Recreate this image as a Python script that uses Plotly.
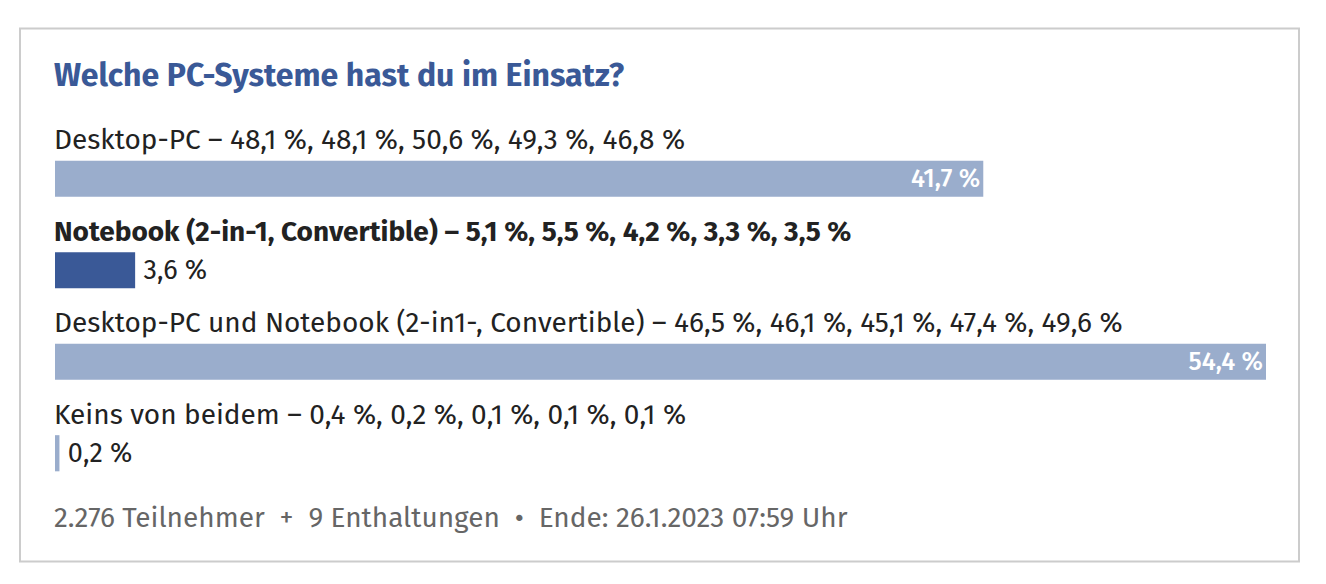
import plotly.graph_objects as go

# ---- data ----
categories = [
    "Desktop-PC",
    "Notebook (2-in-1, Convertible)",
    "Desktop-PC und Notebook (2-in1-, Convertible)",
    "Keins von beidem",
]
current_pct = [41.7, 3.6, 54.4, 0.2]
history_pct = [
    [48.1, 48.1, 50.6, 49.3, 46.8],
    [5.1, 5.5, 4.2, 3.3, 3.5],
    [46.5, 46.1, 45.1, 47.4, 49.6],
    [0.4, 0.2, 0.1, 0.1, 0.1],
]
highlighted = [False, True, False, False]
title_text = "Welche PC-Systeme hast du im Einsatz?"
participants = "2.276"
abstentions = "9"
end_date = "26.1.2023 07:59 Uhr"

# ---- style ----
FONT = "Fira Sans, Noto Sans, sans-serif"
LIGHT = "#9aadcc"
DARK = "#3a5997"
TEXT = "#222222"
GREY = "#666666"

OFF = 8  # page body margin
W, H = 1326 - 2 * OFF, 584 - 2 * OFF


def px_x(x):
    return x - OFF


def px_y(y):
    return y - OFF


L = px_x(55)
R = W - px_x(1266)
T = px_y(133.3)
B = H - px_y(498.6)
pw, ph = W - L - R, H - T - B


def fmt(v):
    return f"{v:.1f}".replace(".", ",") + " %"


idx = list(range(len(categories)))
max_v = max(current_pct)
colors = [DARK if h else LIGHT for h in highlighted]
inside = [v > 0.15 * max_v for v in current_pct]
textpos = ["inside" if i else "outside" for i in inside]
textcol = ["white" if i else TEXT for i in inside]

fig = go.Figure(
    go.Bar(
        x=current_pct,
        y=idx,
        orientation="h",
        width=0.395,
        marker=dict(color=colors, line=dict(width=0)),
        text=[fmt(v) if i else "\u2009" + fmt(v) for v, i in zip(current_pct, inside)],
        textposition=textpos,
        insidetextanchor="end",
        textfont=dict(family=FONT, size=27, color=textcol),
        outsidetextfont=dict(family=FONT, size=27, color=TEXT),
        insidetextfont=dict(family=FONT, size=27, color="white", weight=500),
        cliponaxis=False,
        hoverinfo="skip",
    )
)

annotations = []
for i, (cat, hist, hl) in enumerate(zip(categories, history_pct, highlighted)):
    label = cat + " – " + ", ".join(fmt(v) for v in hist)
    if hl:
        label = "<b>" + label + "</b>"
    annotations.append(
        dict(
            x=0, xref="paper", y=i, yref="y", yshift=39, xshift=-3,
            text=label, showarrow=False, xanchor="left", yanchor="middle",
            font=dict(family=FONT, size=28, color=TEXT),
        )
    )

annotations.append(
    dict(
        x=0, xref="paper", y=1 + (T - px_y(75)) / ph, yref="paper", xshift=-3,
        text="<b>" + title_text + "</b>", showarrow=False,
        xanchor="left", yanchor="middle",
        font=dict(family=FONT, size=32, color=DARK),
    )
)
annotations.append(
    dict(
        x=0, xref="paper", y=(T + ph - px_y(517)) / ph, yref="paper", xshift=-3,
        text=f"{participants} Teilnehmer  +  {abstentions} Enthaltungen  •  Ende: {end_date}",
        showarrow=False, xanchor="left", yanchor="middle",
        font=dict(family=FONT, size=28, color=GREY),
    )
)

fig.update_layout(
    width=W, height=H, autosize=False,
    margin=dict(l=L, r=R, t=T, b=B, pad=0),
    paper_bgcolor="white", plot_bgcolor="white",
    showlegend=False,
    xaxis=dict(range=[0, max_v], visible=False, fixedrange=True),
    yaxis=dict(range=[len(categories) - 0.5, -0.5], visible=False, fixedrange=True),
    annotations=annotations,
    shapes=[
        dict(
            type="rect", xref="paper", yref="paper",
            x0=(px_x(20) - L) / pw, x1=(px_x(1299) - L) / pw,
            y0=(T + ph - px_y(561)) / ph, y1=1 + (T - px_y(29)) / ph,
            line=dict(color="#cccccc", width=2), fillcolor="rgba(0,0,0,0)",
            layer="below",
        )
    ],
    uniformtext=dict(mode=False),
)

fig.write_html("out.html", config={"displayModeBar": False})
